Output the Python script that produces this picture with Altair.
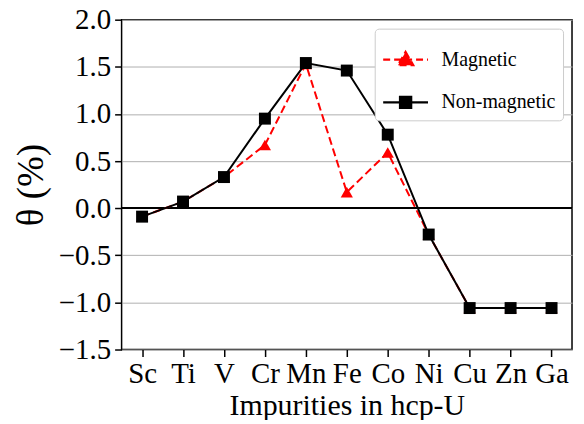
import altair as alt
import pandas as pd

elements = ["Sc", "Ti", "V", "Cr", "Mn", "Fe", "Co", "Ni", "Cu", "Zn", "Ga"]
magnetic = [-0.09, 0.07, 0.33, 0.67, 1.53, 0.17, 0.59, -0.28, -1.06, -1.06, -1.06]
nonmagnetic = [-0.09, 0.07, 0.33, 0.95, 1.54, 1.46, 0.78, -0.28, -1.06, -1.06, -1.06]
series_names = ["Magnetic", "Non-magnetic"]
y_ticks = [-1.5, -1.0, -0.5, 0.0, 0.5, 1.0, 1.5, 2.0]

rows = []
for e, v in zip(elements, magnetic):
    rows.append({"element": e, "theta": v, "series": "Magnetic"})
for e, v in zip(elements, nonmagnetic):
    rows.append({"element": e, "theta": v, "series": "Non-magnetic"})
df = pd.DataFrame(rows)

FONT = "Liberation Serif"
YSCALE = alt.Scale(domain=[-1.5, 2.0], nice=False, zero=False)

x_axis = alt.Axis(
    title="Impurities in hcp-U",
    labelAngle=0,
    labelFont=FONT,
    titleFont=FONT,
    labelFontSize=29,
    titleFontSize=30,
    titlePadding=2,
    labelPadding=3,
    grid=False,
)
y_axis = alt.Axis(
    title="θ (%)",
    values=y_ticks,
    format=".1f",
    labelFont=FONT,
    titleFont=FONT,
    labelFontSize=29,
    titleFontSize=37,
    titlePadding=8,
    labelPadding=4,
    grid=True,
)

x_enc = alt.X("element:N", sort=elements, scale=alt.Scale(type="point", padding=0.5), axis=x_axis)
y_enc = alt.Y("theta:Q", scale=YSCALE, axis=y_axis)

tri_path = "M-1,0H1M0,-0.34L0.34,0.25L-0.34,0.25Z"
sq_path = "M-1,0H1M-0.25,-0.25H0.25V0.25H-0.25Z"

legend = alt.Legend(
    title=None,
    orient="none",
    legendX=254,
    legendY=9,
    labelOffset=12,
    symbolSize=2025,
    symbolStrokeWidth=2.2,
    symbolOpacity=1,
    rowPadding=8,
    padding=7,
    fillColor="white",
    strokeColor="#cccccc",
    cornerRadius=4,
)

base = alt.Chart(df)

mag = base.transform_filter(alt.datum.series == "Magnetic")
non = base.transform_filter(alt.datum.series == "Non-magnetic")

# invisible layer that carries the axes and drives the legend
color_range = ["#ff0000", "#000000"]
legend_layer = base.mark_point(filled=True, size=0, strokeWidth=2).encode(
    x=x_enc,
    y=y_enc,
    fill=alt.Fill("series:N", scale=alt.Scale(domain=series_names, range=color_range), legend=legend),
    stroke=alt.Stroke("series:N", scale=alt.Scale(domain=series_names, range=color_range), legend=legend),
    shape=alt.Shape("series:N", scale=alt.Scale(domain=series_names, range=[tri_path, sq_path]), legend=legend),
    strokeDash=alt.StrokeDash("series:N", scale=alt.Scale(domain=series_names, range=[[7, 4], [1, 0]]), legend=legend),
)

zero_rule = base.mark_rule(color="black", strokeWidth=1.5).encode(y=alt.datum(0.0))

mag_line = mag.mark_line(strokeWidth=2, strokeDash=[8, 4], color="#ff0000").encode(x=x_enc, y=y_enc)
mag_pts = mag.mark_point(filled=True, size=150, opacity=1, shape="triangle-up", color="#ff0000").encode(
    x=x_enc, y=y_enc
)
non_line = non.mark_line(strokeWidth=2, color="#000000").encode(x=x_enc, y=y_enc)
non_pts = non.mark_point(filled=True, size=144, opacity=1, shape="square", color="#000000").encode(
    x=x_enc, y=y_enc
)

chart = alt.layer(legend_layer, zero_rule, mag_line, mag_pts, non_line, non_pts).properties(
    width=452,
    height=331,
    autosize=alt.AutoSizeParams(type="none"),
    padding={"left": 114, "top": 11, "right": 4, "bottom": 70},
).configure(
    background="white", font=FONT
).configure_axis(
    labelFont=FONT,
    titleFont=FONT,
    labelColor="black",
    titleColor="black",
    titleFontWeight="normal",
    tickSize=7,
    tickWidth=1.5,
    tickColor="black",
    domain=False,
    gridColor="#b0b0b0",
    gridWidth=1,
).configure_legend(
    labelFont=FONT, labelFontSize=20, labelColor="black"
).configure_view(
    stroke="black", strokeWidth=1.5
)

chart.save("out.html", embed_options={"renderer": "svg", "actions": False})
